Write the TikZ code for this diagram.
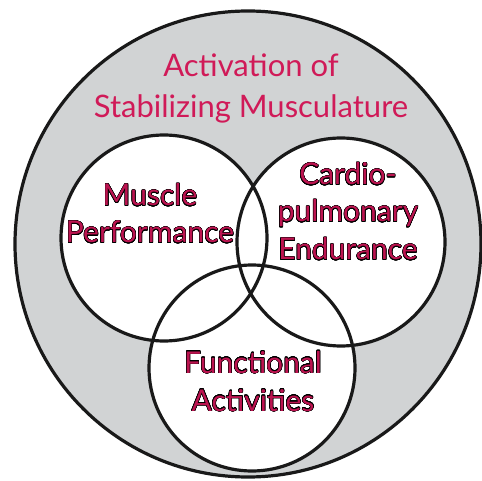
\documentclass[tikz,border=0pt]{standalone}
\usepackage{fontspec}
\setmainfont{Lato}
\usepackage[copies]{contour}
\contourlength{0.45pt}
\contournumber{24}
\definecolor{ringgray}{HTML}{D1D3D4}
\definecolor{crimson}{HTML}{D01A58}
\definecolor{darkcrimson}{HTML}{BC1450}
\begin{document}
\begin{tikzpicture}[x=1pt,y=-1pt,
  ring/.style={line width=3.2pt,draw=black!90},
  outertext/.style={anchor=base,inner sep=0pt,text=crimson,font=\fontsize{31}{33}\selectfont},
  innertext/.style={anchor=base,inner sep=0pt,text=darkcrimson,font=\fontsize{30}{33}\selectfont}]
\useasboundingbox (0,0) rectangle (482,481);
% outer circle
\fill[ringgray] (248,244) circle (233);
\draw[ring] (248,244) circle (233);
% white inner circles
\fill[white] (164,238) circle (103);
\fill[white] (341,242) circle (104);
\fill[white] (252,368) circle (103);
\draw[ring] (164,238) circle (103);
\draw[ring] (341,242) circle (104);
\draw[ring] (252,368) circle (103);
% texts
\node[outertext] (t1) at (251,77) {Activation of};
\node[outertext] (t2) at (251,118) {Stabilizing Musculature};
\node[innertext] (m1) at (150,206) {\contour{black}{Muscle}};
\node[innertext] (m2) at (150,243) {\contour{black}{Performance}};
\node[innertext] (c1) at (348,185) {\contour{black}{Cardio-}};
\node[innertext] (c2) at (348,222) {\contour{black}{pulmonary}};
\node[innertext] (c3) at (348,260) {\contour{black}{Endurance}};
\node[innertext] (f1) at (253,373) {\contour{black}{Functional}};
\node[innertext] (f2) at (253,411) {\contour{black}{Activities}};
\end{tikzpicture}
\end{document}
